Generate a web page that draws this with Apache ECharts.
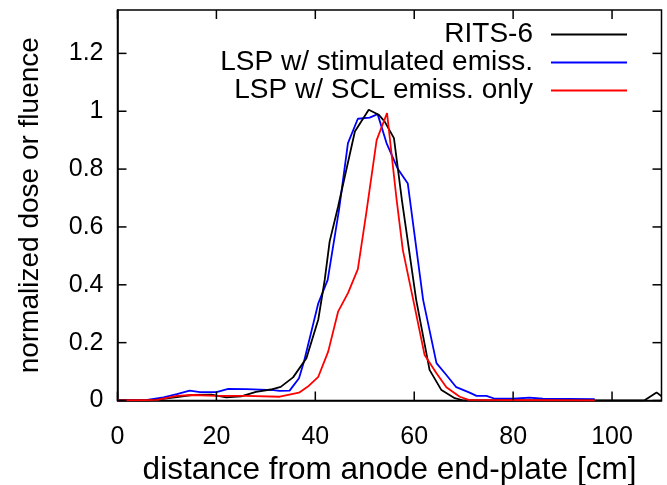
<!DOCTYPE html>
<html>
<head>
<meta charset="utf-8">
<script src="https://cdn.jsdelivr.net/npm/echarts@6/dist/echarts.min.js"></script>
<style>html,body{margin:0;padding:0;background:#fff;}#c{width:667px;height:485px;}</style>
</head>
<body>
<div id="c"></div>
<script>
var seriesNames = ['RITS-6', 'LSP w/ stimulated emiss.', 'LSP w/ SCL emiss. only'];
var ritsX = [0,6,8,12,15,19,22,25,28,31,33,35.5,38.2,40.6,41.9,42.9,44.6,48,50.8,52.8,54,55.9,57.5,60.4,63.1,65.5,68.2,70,106.5,109,110];
var ritsY = [0,0,0.003,0.012,0.019,0.02,0.011,0.014,0.03,0.038,0.047,0.08,0.146,0.28,0.417,0.55,0.67,0.93,1.005,0.988,0.965,0.907,0.694,0.348,0.106,0.036,0.008,0,0,0.028,0.015];
var stimX = [0,6,9.3,12,14.6,16.7,20,22.4,26.1,31.5,32.8,34.8,36.7,37.7,40.6,42.5,44.8,46.6,48.6,51,52.6,54.4,56.7,58.7,61.8,64.5,66.5,68.5,71.2,72.6,74.6,76.3,80,83.3,86,96.5];
var stimY = [0,0.002,0.011,0.022,0.034,0.029,0.029,0.04,0.039,0.036,0.033,0.034,0.077,0.134,0.336,0.417,0.66,0.89,0.974,0.978,0.99,0.89,0.80,0.75,0.348,0.129,0.088,0.046,0.027,0.016,0.016,0.006,0.006,0.01,0.006,0.005];
var sclX = [0,8,12,15.3,20,26,32.8,36.7,38.5,40.6,42.6,44.6,46.6,48.6,50.3,52.4,54.5,56.4,57.7,59.8,62.1,64.5,66.5,69.2,71,96.5];
var sclY = [0,0.002,0.016,0.019,0.016,0.016,0.013,0.027,0.048,0.082,0.169,0.307,0.371,0.454,0.648,0.90,0.994,0.70,0.52,0.348,0.157,0.094,0.046,0.013,0.002,0];
var xTicks = [0,20,40,60,80,100];
var yTicks = [0,0.2,0.4,0.6,0.8,1,1.2];
var xLabel = 'distance from anode end-plate [cm]';
var yLabel = 'normalized dose or fluence';
var X_MAX = 110, Y_MAX = 1.35;

function pairs(xs, ys){ return xs.map(function(x,i){ return [x, ys[i]]; }); }
var colors = ['#000000', '#0000ff', '#ff0000'];
var FONT = 'Liberation Sans';
var TICK_LEN = 9;
var tickStyle = {stroke:'#000', lineWidth:1.5};

var chart = echarts.init(document.getElementById('c'), null, {renderer:'canvas'});
function isTick(v, arr){ return arr.some(function(t){ return Math.abs(t - v) < 1e-6; }); }

function xTickItem(params, api){
  var x = api.value(0);
  var pb = api.coord([x, 0]), pt = api.coord([x, Y_MAX]);
  return {type:'group', children:[
    {type:'line', shape:{x1:pb[0], y1:pb[1], x2:pb[0], y2:pb[1]-TICK_LEN}, style:tickStyle},
    {type:'line', shape:{x1:pt[0], y1:pt[1], x2:pt[0], y2:pt[1]+TICK_LEN}, style:tickStyle}
  ]};
}
function yTickItem(params, api){
  var y = api.value(1);
  var pl = api.coord([0, y]), pr = api.coord([X_MAX, y]);
  return {type:'group', children:[
    {type:'line', shape:{x1:pl[0], y1:pl[1], x2:pl[0]+TICK_LEN, y2:pl[1]}, style:tickStyle},
    {type:'line', shape:{x1:pr[0], y1:pr[1], x2:pr[0]-TICK_LEN, y2:pr[1]}, style:tickStyle}
  ]};
}

var option = {
  animation:false,
  backgroundColor:'#fff',
  grid:{left:117.5, right:5.5, top:10, bottom:84.5, outerBoundsMode:'none',
        show:true, borderColor:'#000', borderWidth:1.5, backgroundColor:'transparent'},
  legend:{
    orient:'vertical', right:35, top:15.5, align:'right',
    itemWidth:76, itemHeight:2, itemGap:0,
    icon:'rect',
    textStyle:{fontFamily:FONT, fontSize:28, color:'#000', padding:[0,13,0,0]},
    data:seriesNames.map(function(n,i){return {name:n, itemStyle:{color:colors[i]}};})
  },
  xAxis:{
    type:'value', min:0, max:X_MAX, interval:20, position:'bottom',
    axisLine:{show:true, onZero:false, lineStyle:{color:'#000', width:1.5}},
    axisTick:{show:false},
    axisLabel:{fontFamily:FONT, fontSize:25, color:'#000', margin:24, showMaxLabel:false,
      formatter:function(v){ return isTick(v,xTicks)? String(v) : ''; }},
    splitLine:{show:false},
    name:xLabel, nameLocation:'middle', nameGap:50,
    nameTextStyle:{fontFamily:FONT, fontSize:31.5, color:'#000'}
  },
  yAxis:{
    type:'value', min:0, max:Y_MAX, interval:0.2, position:'left',
    axisLine:{show:true, onZero:false, lineStyle:{color:'#000', width:1.5}},
    axisTick:{show:false},
    axisLabel:{fontFamily:FONT, fontSize:25, color:'#000', margin:14, showMaxLabel:false,
      formatter:function(v){ return isTick(v,yTicks)? String(Math.round(v*10)/10) : ''; }},
    splitLine:{show:false},
    name:yLabel, nameLocation:'middle', nameGap:73,
    nameTextStyle:{fontFamily:FONT, fontSize:28, color:'#000'}
  },
  series:[
    {name:seriesNames[0], type:'line', data:pairs(ritsX, ritsY), showSymbol:false, symbol:'none',
     lineStyle:{color:colors[0], width:1.8}, itemStyle:{color:colors[0]}, z:3},
    {name:seriesNames[1], type:'line', data:pairs(stimX, stimY), showSymbol:false, symbol:'none',
     lineStyle:{color:colors[1], width:1.8}, itemStyle:{color:colors[1]}, z:2},
    {name:seriesNames[2], type:'line', data:pairs(sclX, sclY), showSymbol:false, symbol:'none',
     lineStyle:{color:colors[2], width:1.8}, itemStyle:{color:colors[2]}, z:4},
    {name:'_xticks', type:'custom', silent:true, clip:false, renderItem:xTickItem,
     data:xTicks.map(function(v){ return [v, 0]; }), encode:{x:0, y:1}, z:5},
    {name:'_yticks', type:'custom', silent:true, clip:false, renderItem:yTickItem,
     data:yTicks.map(function(v){ return [0, v]; }), encode:{x:0, y:1}, z:5}
  ]
};
chart.setOption(option);
</script>
</body>
</html>
